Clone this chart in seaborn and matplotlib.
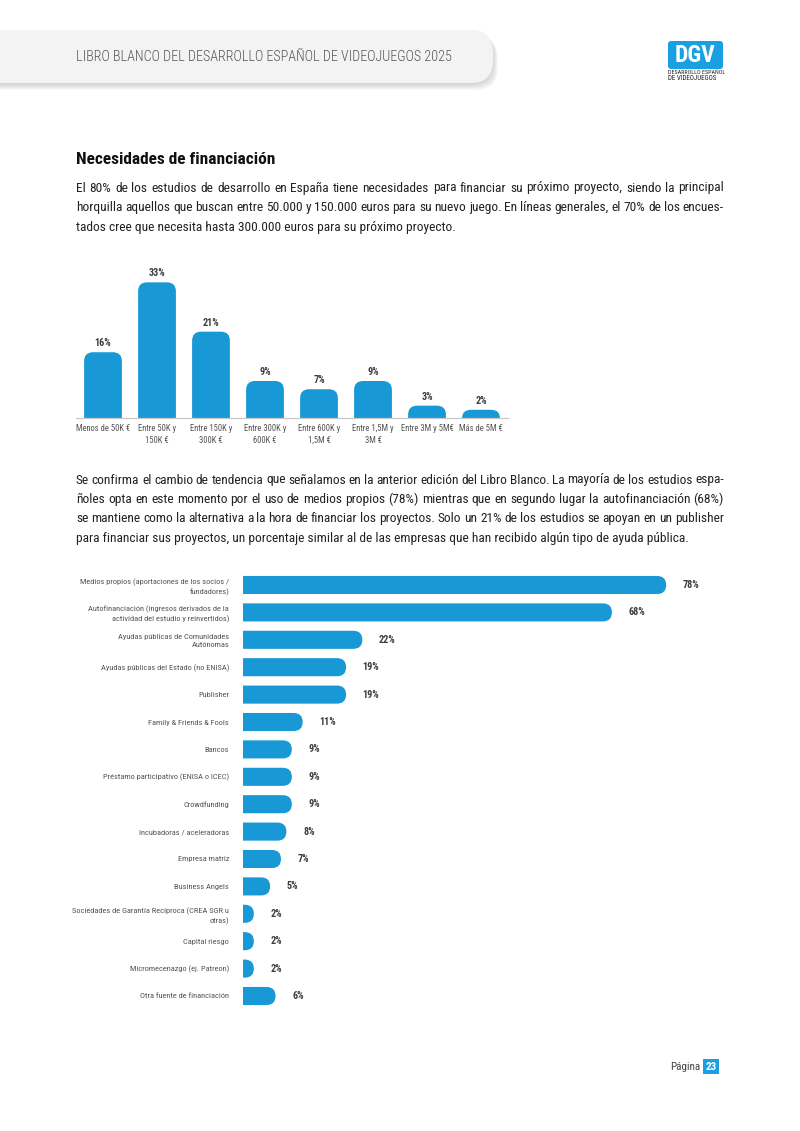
import matplotlib
matplotlib.use('Agg')
import matplotlib.pyplot as plt
from matplotlib import font_manager as fm
from matplotlib.path import Path
from matplotlib.patches import PathPatch, FancyBboxPatch
import seaborn as sns
import pandas as pd

# datos: rango de financiación que necesitan
rangos = ["Menos de 50K €", "Entre 50K y\n150K €", "Entre 150K y\n300K €", "Entre 300K y\n600K €",
          "Entre 600K y\n1,5M €", "Entre 1,5M y\n3M €", "Entre 3M y 5M€", "Más de 5M €"]
pct_rango = [16, 33, 21, 9, 7, 9, 3, 2]

# datos: fuentes de financiación
fuentes = ["Medios propios (aportaciones de los socios /\nfundadores)",
           "Autofinanciación (ingresos derivados de la\nactividad del estudio y reinvertidos)",
           "Ayudas públicas de Comunidades\nAutónomas",
           "Ayudas públicas del Estado (no ENISA)",
           "Publisher",
           "Family & Friends & Fools",
           "Bancos",
           "Préstamo participativo (ENISA o ICEC)",
           "Crowdfunding",
           "Incubadoras / aceleradoras",
           "Empresa matriz",
           "Business Angels",
           "Sociedades de Garantía Recíproca (CREA SGR u\notras)",
           "Capital riesgo",
           "Micromecenazgo (ej. Patreon)",
           "Otra fuente de financiación"]
pct_fuente = [78, 68, 22, 19, 19, 11, 9, 9, 9, 8, 7, 5, 2, 2, 2, 6]

parrafo1 = ["El 80% de los estudios de desarrollo en España tiene necesidades para financiar su próximo proyecto, siendo la principal",
            "horquilla aquellos que buscan entre 50.000 y 150.000 euros para su nuevo juego. En líneas generales, el 70% de los encues-",
            "tados cree que necesita hasta 300.000 euros para su próximo proyecto."]
parrafo2 = ["Se confirma el cambio de tendencia que señalamos en la anterior edición del Libro Blanco. La mayoría de los estudios espa-",
            "ñoles opta en este momento por el uso de medios propios (78%) mientras que en segundo lugar la autofinanciación (68%)",
            "se mantiene como la alternativa a la hora de financiar los proyectos. Solo un 21% de los estudios se apoyan en un publisher",
            "para financiar sus proyectos, un porcentaje similar al de las empresas que han recibido algún tipo de ayuda pública."]

AZUL = '#1899d6'
GRIS = '#555555'
OSCURO = '#3d3d3d'

sns.set_style('white')
nombres = {f.name for f in fm.fontManager.ttflist}
STRETCH = 'normal'
if 'Roboto Condensed' in nombres:
    FAM = ['Roboto Condensed', 'DejaVu Sans']
elif 'Liberation Sans Narrow' in nombres:
    FAM = ['Liberation Sans Narrow', 'DejaVu Sans']
elif any(f.name == 'DejaVu Sans' and f.stretch == 'condensed' for f in fm.fontManager.ttflist):
    FAM = ['DejaVu Sans']
    STRETCH = 'condensed'
else:
    FAM = ['Roboto', 'DejaVu Sans']
plt.rcParams['font.family'] = FAM
plt.rcParams['font.stretch'] = STRETCH

W, H = 800, 1131
fig = plt.figure(figsize=(8, 11.31), dpi=100)


def caja(x0, y0, x1, y1):
    return [x0 / W, 1 - y1 / H, (x1 - x0) / W, (y1 - y0) / H]


# capa de página en píxeles
ax0 = fig.add_axes([0, 0, 1, 1])
ax0.set_xlim(0, W)
ax0.set_ylim(H, 0)
ax0.axis('off')

# cabecera
for k in range(7):
    ax0.add_patch(FancyBboxPatch((-40 + k * 0.8, 31 + k), 533, 53, boxstyle='round,pad=0,rounding_size=22',
                                 fc='#8a8a9c', ec='none', alpha=0.06))
ax0.add_patch(FancyBboxPatch((-40, 30), 533, 53, boxstyle='round,pad=0,rounding_size=22',
                             fc='#f3f3f4', ec='none'))
ax0.text(76, 57, "LIBRO BLANCO DEL DESARROLLO ESPAÑOL DE VIDEOJUEGOS 2025", fontsize=10.2,
         color=GRIS, weight='light', va='center', ha='left')

# logo
ax0.add_patch(FancyBboxPatch((668, 41), 55, 28, boxstyle='round,pad=0,rounding_size=3',
                             fc='#1aa0e2', ec='none'))
ax0.text(695.5, 56, "DGV", fontsize=17, color='white', weight='bold', ha='center', va='center')
ax0.text(668, 73, "DESARROLLO ESPAÑOL", fontsize=4.3, color='#222222', ha='left', va='center')
ax0.text(668, 79, "DE VIDEOJUEGOS", fontsize=5, color='#222222', ha='left', va='center')

# título
ax0.text(76, 160, "Necesidades de financiación", fontsize=12.5, weight='heavy', color='#111111',
         va='center', ha='left')

rend = fig.canvas.get_renderer()
TAM = 9.65


def justificar(lineas, y0, paso, x0=76, x1=724):
    for i, linea in enumerate(lineas):
        y = y0 + i * paso
        if i == len(lineas) - 1:
            ax0.text(x0, y, linea, fontsize=TAM, color='#222222', va='center', ha='left')
            continue
        palabras = linea.split(' ')
        txts = [ax0.text(0, y, p, fontsize=TAM, color='#222222', va='center', ha='left') for p in palabras]
        anchos = [t.get_window_extent(rend).width for t in txts]
        hueco = (x1 - x0 - sum(anchos)) / (len(palabras) - 1)
        x = x0
        for t, a in zip(txts, anchos):
            t.set_x(x)
            x += a + hueco


justificar(parrafo1, 188, 19.5)
justificar(parrafo2, 480, 19.4)

# pie de página
ax0.text(700, 1066.5, "Página", fontsize=8, color='#444444', ha='right', va='center')
ax0.add_patch(FancyBboxPatch((703, 1059), 16, 15, boxstyle='square,pad=0', fc='#1aa0e2', ec='none'))
ax0.text(711, 1066.5, "23", fontsize=8, color='white', weight='bold', ha='center', va='center')


def escala(ax):
    x0, x1 = ax.get_xlim()
    y0, y1 = ax.get_ylim()
    return ax.bbox.width / abs(x1 - x0), ax.bbox.height / abs(y1 - y0)


# gráfico 1: barras verticales
ax1 = fig.add_axes(caja(76, 270, 508, 418))
df1 = pd.DataFrame({'rango': rangos, 'pct': pct_rango})
sns.barplot(data=df1, x='rango', y='pct', color=AZUL, width=0.7, saturation=1, ax=ax1)
ax1.set_xlim(-0.5, 7.5)
ax1.set_ylim(0, 36)
sx, sy = escala(ax1)
for p in list(ax1.patches):
    x0, w, h = p.get_x(), p.get_width(), p.get_height()
    x1 = x0 + w
    rx = min(9 / sx, w / 2)
    ry = min(9 / sy, h)
    verts = [(x0, 0), (x0, h - ry), (x0, h), (x0 + rx, h), (x1 - rx, h), (x1, h), (x1, h - ry), (x1, 0), (x0, 0)]
    codes = [Path.MOVETO, Path.LINETO, Path.CURVE3, Path.CURVE3, Path.LINETO, Path.CURVE3, Path.CURVE3,
             Path.LINETO, Path.CLOSEPOLY]
    p.set_visible(False)
    ax1.add_patch(PathPatch(Path(verts, codes), fc=AZUL, ec='none'))
for i, v in enumerate(pct_rango):
    ax1.annotate(f"{v}%", (i, v), xytext=(0, 3), textcoords='offset points', ha='center', va='bottom',
                 fontsize=7.3, weight='heavy', color=OSCURO)
ax1.set_xlabel('')
ax1.set_ylabel('')
ax1.set_yticks([])
ax1.tick_params(axis='x', length=0, pad=4, labelsize=6.2, labelcolor=GRIS)
for t in ax1.get_xticklabels():
    t.set_linespacing(1.45)
for s in ['top', 'left', 'right']:
    ax1.spines[s].set_visible(False)
ax1.spines['bottom'].set_color('#c8c8c8')
ax1.spines['bottom'].set_linewidth(0.9)
ax1.patch.set_alpha(0)

# gráfico 2: barras horizontales
ax2 = fig.add_axes(caja(243, 571.3, 677, 1009.7))
df2 = pd.DataFrame({'fuente': fuentes, 'pct': pct_fuente})
sns.barplot(data=df2, y='fuente', x='pct', orient='h', color=AZUL, width=0.66, saturation=1, ax=ax2)
ax2.set_xlim(0, 80)
ax2.set_ylim(15.5, -0.5)
sx, sy = escala(ax2)
for p in list(ax2.patches):
    y0, w, h = p.get_y(), p.get_width(), p.get_height()
    y1 = y0 + h
    yc = y0 + h / 2
    rx = min((h / 2) * sy / sx, w)
    verts = [(0, y0), (w - rx, y0), (w, y0), (w, yc), (w, y1), (w - rx, y1), (0, y1), (0, y0)]
    codes = [Path.MOVETO, Path.LINETO, Path.CURVE3, Path.CURVE3, Path.CURVE3, Path.CURVE3, Path.LINETO,
             Path.CLOSEPOLY]
    p.set_visible(False)
    ax2.add_patch(PathPatch(Path(verts, codes), fc=AZUL, ec='none'))
for i, v in enumerate(pct_fuente):
    ax2.annotate(f"{v}%", (v, i), xytext=(12, 0), textcoords='offset points', ha='left', va='center',
                 fontsize=7.3, weight='heavy', color=OSCURO)
ax2.set_xlabel('')
ax2.set_ylabel('')
ax2.set_xticks([])
ax2.tick_params(axis='y', length=0, pad=10, labelsize=6.0, labelcolor=GRIS)
for t in ax2.get_yticklabels():
    t.set_linespacing(1.4)
for s in ax2.spines.values():
    s.set_visible(False)
ax2.patch.set_alpha(0)

fig.savefig('out.png', dpi=100)
